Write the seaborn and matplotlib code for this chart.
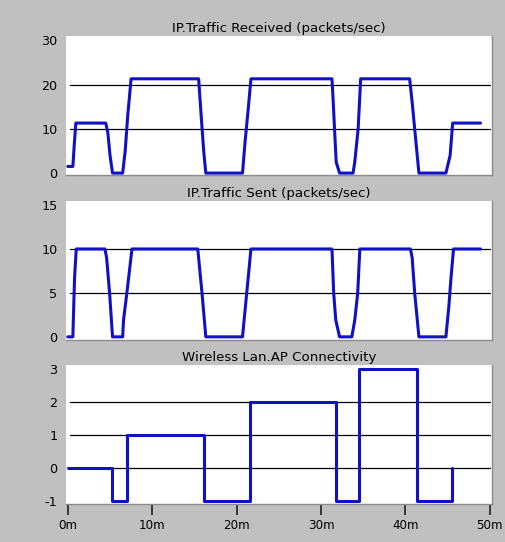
import matplotlib
matplotlib.use("Agg")
import matplotlib.pyplot as plt
import pandas as pd
import seaborn as sns

# minutes / values
recv_t = [0, 0.6, 0.75, 0.95, 4.5, 4.75, 5.0, 5.3, 6.5, 6.8, 7.1, 7.5, 15.5, 15.8, 16.1, 16.35,
          20.7, 21.0, 21.4, 21.7, 31.3, 31.45, 31.6, 31.8, 32.2, 33.8, 34.0, 34.4, 34.7,
          40.5, 40.8, 41.1, 41.6, 44.8, 45.3, 45.6, 48.9]
recv_v = [1.5, 1.5, 6, 11.3, 11.3, 9, 4, 0, 0, 5, 13, 21.3, 21.3, 13, 5, 0,
          0, 7, 15, 21.3, 21.3, 16, 10, 2.5, 0, 0, 2.5, 10, 21.3,
          21.3, 16, 10, 0, 0, 4, 11.3, 11.3]

sent_t = [0, 0.6, 0.7, 0.8, 1.0, 4.4, 4.6, 4.95, 5.3, 6.5, 6.6, 7.0, 7.6, 15.4, 15.9, 16.35,
          20.7, 21.2, 21.7, 31.3, 31.5, 31.75, 32.2, 33.65, 34.0, 34.35, 34.6,
          40.6, 40.8, 41.1, 41.6, 44.8, 45.15, 45.4, 45.7, 48.9]
sent_v = [0, 0, 3.4, 6.7, 10, 10, 9, 5, 0, 0, 1.9, 5, 10, 10, 5, 0,
          0, 5, 10, 10, 5, 1.9, 0, 0, 1.9, 5, 10,
          10, 9, 5, 0, 0, 3.5, 6.7, 10, 10]

conn_t = [0, 5.2, 7.0, 16.1, 21.6, 31.75, 34.5, 41.35, 45.5]
conn_v = [0, -1, 1, -1, 2, -1, 3, -1, 0]

x_ticks = [0, 10, 20, 30, 40, 50]
x_labels = ["0m", "10m", "20m", "30m", "40m", "50m"]

panels = [
    ("IP.Traffic Received (packets/sec)", recv_t, recv_v, [0, 10, 20, 30], [10, 20], (-0.45, 30.9), None),
    ("IP.Traffic Sent (packets/sec)", sent_t, sent_v, [0, 5, 10, 15], [5, 10], (-0.34, 15.45), None),
    ("Wireless Lan.AP Connectivity", conn_t, conn_v, [-1, 0, 1, 2, 3], [0, 1, 2], (-1.09, 3.12), "steps-post"),
]

BG = "#c0c0c0"
BLUE = "#1010c4"

sns.set_style("white", {"axes.facecolor": "white", "figure.facecolor": BG})
plt.rcParams["font.family"] = ["DejaVu Sans"]
plt.rcParams["text.color"] = "black"
plt.rcParams["xtick.color"] = "black"
plt.rcParams["ytick.color"] = "black"

fig = plt.figure(figsize=(5.06, 5.42), dpi=100)
fig.patch.set_facecolor(BG)

bottoms = [0.677, 0.373, 0.070]
for (title, t, v, yt, grid, ylim, ds), b in zip(panels, bottoms):
    ax = fig.add_axes([0.130, b, 0.842, 0.256])
    df = pd.DataFrame({"minute": t, "value": v})
    kw = {"drawstyle": ds} if ds else {}
    sns.lineplot(data=df, x="minute", y="value", ax=ax, color=BLUE, lw=2.2,
                 estimator=None, sort=False, zorder=3, **kw)
    for g in grid:
        ax.axhline(g, xmin=0.01, xmax=0.995, color="black", lw=0.9, zorder=2)
    ax.set_xlim(-0.24, 50.24)
    ax.set_ylim(*ylim)
    ax.set_yticks(yt)
    ax.set_yticklabels([str(y) for y in yt])
    ax.set_xlabel("")
    ax.set_ylabel("")
    ax.set_title(title, fontsize=9.6, pad=3, color="black")
    ax.tick_params(axis="y", length=0, pad=6, labelsize=9.2)
    for s in ["top", "left"]:
        ax.spines[s].set_visible(False)
    for s in ["right", "bottom"]:
        ax.spines[s].set_color("#8c8c8c")
        ax.spines[s].set_linewidth(1.0)
    if b == bottoms[-1]:
        ax.set_xticks(x_ticks)
        ax.set_xticklabels(x_labels)
        ax.tick_params(axis="x", length=8, width=1.2, color="#202020", pad=3, labelsize=8.6,
                       bottom=True, direction="out")
    else:
        ax.set_xticks([])

fig.savefig("out.png", dpi=100, facecolor=BG)
